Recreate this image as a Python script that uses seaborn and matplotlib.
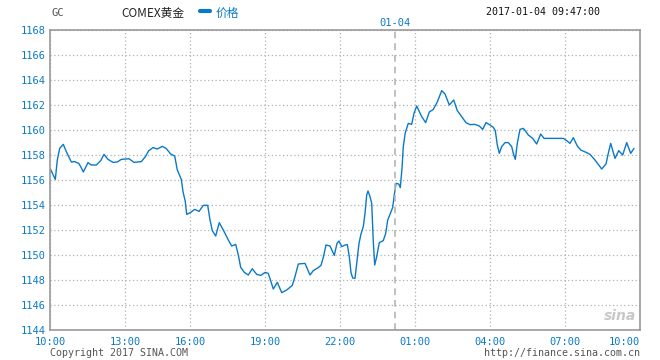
import pandas as pd
import matplotlib.pyplot as plt
import seaborn as sns

# intraday COMEX gold, x = position along the session axis (0 = 10:00, 590 = next 10:00)
slot = [0.5, 5.3, 7.3, 9.7, 13.3, 16.3, 21.3, 24.7, 28.7, 30.7, 33.3, 38, 41.3, 46.3, 50.7,
        54, 58, 63, 67.3, 71.3, 79, 84, 91.3, 95.3, 98.7, 103, 107.3, 112.3, 116.3, 120.7,
        124.7, 127.3, 131.3, 133, 135.3, 136.7, 140.7, 144.7, 149, 153.3, 157.7, 160, 162.3,
        165.7, 169.3, 173.3, 178.3, 181.7, 185.7, 188.3, 190.7, 194.3, 198.3, 202.3, 206.7,
        211, 215, 218.3, 221, 223.3, 227.3, 231.7, 236.7, 242.3, 245, 248.3, 255, 260, 263.3,
        267.7, 271, 273.3, 276, 280, 284.3, 287, 289, 291.7, 295, 297.3, 299.3, 301, 302.7,
        305, 306.7, 309, 311, 313.3, 315, 316.7, 318, 320, 321.7, 323.3, 324.7, 326.7, 329.3,
        333.3, 335.7, 337.7, 340, 342.7, 344.3, 346, 348.7, 350.3, 352, 353.3, 355.3, 358.3,
        361.7, 364, 366.7, 371.7, 375.7, 379.3, 383.3, 387.3, 391.7, 395, 399.3, 403.7, 407.3,
        411.7, 416, 420, 425, 429.3, 432.7, 436, 440, 443.3, 445.3, 447.3, 449.3, 451.7, 455,
        458.3, 461.7, 463.3, 465.3, 467.3, 470, 473.3, 476, 478.3, 482.7, 486.7, 490.7, 494,
        513.3, 516.7, 520, 523.3, 527.3, 530.7, 536.7, 540, 545, 551.7, 556, 558.3, 560.7,
        565, 568.7, 572.7, 576.7, 580.7, 584]
price = [1156.86, 1156.05, 1157.6, 1158.53, 1158.85, 1158.27, 1157.44, 1157.47, 1157.33,
         1157.07, 1156.64, 1157.39, 1157.2, 1157.2, 1157.55, 1158.05, 1157.65, 1157.41,
         1157.44, 1157.65, 1157.7, 1157.41, 1157.47, 1157.86, 1158.34, 1158.59, 1158.48,
         1158.69, 1158.51, 1158.08, 1157.92, 1156.8, 1156.05, 1155.07, 1154.27, 1153.25,
         1153.41, 1153.65, 1153.49, 1153.97, 1153.97, 1152.8, 1151.95, 1151.52, 1152.59,
         1152.0, 1151.2, 1150.72, 1150.85, 1150.0, 1149.01, 1148.61, 1148.4, 1148.9, 1148.45,
         1148.37, 1148.61, 1148.53, 1147.87, 1147.28, 1147.81, 1146.99, 1147.2, 1147.57,
         1148.27, 1149.28, 1149.33, 1148.4, 1148.75, 1148.96, 1149.17, 1149.81, 1150.8,
         1150.72, 1149.97, 1150.93, 1151.12, 1150.67, 1150.8, 1150.83, 1149.87, 1148.59,
         1148.16, 1148.13, 1149.33, 1150.93, 1151.68, 1152.27, 1153.33, 1154.8, 1155.12,
         1154.67, 1154.13, 1151.07, 1149.2, 1149.87, 1150.99, 1151.15, 1151.73, 1152.8,
         1153.25, 1153.81, 1154.8, 1155.73, 1155.68, 1155.39, 1156.93, 1158.67, 1159.79,
         1160.53, 1160.45, 1161.33, 1161.92, 1161.07, 1160.59, 1161.44, 1161.65, 1162.24,
         1163.15, 1162.88, 1162.0, 1162.4, 1161.55, 1161.07, 1160.59, 1160.43, 1160.45,
         1160.32, 1160.05, 1160.59, 1160.4, 1160.21, 1159.95, 1158.8, 1158.13, 1158.67,
         1158.99, 1158.99, 1158.67, 1158.13, 1157.65, 1158.93, 1160.05, 1160.13, 1159.87,
         1159.6, 1159.33, 1158.88, 1159.68, 1159.33, 1159.33, 1159.15, 1158.93, 1159.39,
         1158.72, 1158.4, 1158.19, 1158.05, 1157.6, 1156.88, 1157.28, 1158.13, 1158.93,
         1157.73, 1158.35, 1158.0, 1158.99, 1158.13, 1158.53]

tick_pos = [0, 75, 140, 215, 290, 365, 440, 515, 590]
tick_labels = ['10:00', '13:00', '16:00', '19:00', '22:00', '01:00', '04:00', '07:00', '10:00']
day_break = 345
y_ticks = list(range(1144, 1170, 2))

df = pd.DataFrame({'slot': slot, 'price': price})

sns.set_style("white")
plt.rcParams['font.family'] = ['DejaVu Sans Mono', 'Noto Sans CJK SC']

blue = '#0a7ac8'
W, H = 660, 360
fig = plt.figure(figsize=(6.6, 3.6), dpi=100)
ax = fig.add_axes([50 / W, 30 / H, 590 / W, 300 / H])

sns.lineplot(data=df, x='slot', y='price', ax=ax, color=blue, linewidth=1.0)

ax.set_xlim(0, 590)
ax.set_ylim(1144, 1168)
ax.set_xticks(tick_pos)
ax.set_xticklabels(tick_labels)
ax.set_yticks(y_ticks)
ax.set_xlabel('')
ax.set_ylabel('')
ax.tick_params(axis='both', length=0, labelsize=7.5, labelcolor=blue)
ax.tick_params(axis='x', pad=5)
ax.tick_params(axis='y', pad=3)
ax.get_xticklabels()[-1].set_horizontalalignment('right')

ax.grid(True, color='#b0b0b0', linestyle=(0, (1, 2)), linewidth=0.9)
for s in ax.spines.values():
    s.set_color('#999999')
    s.set_linewidth(1.2)
ax.axvline(day_break, color='#b5b5b5', linestyle=(0, (4, 3)), linewidth=1.2)

# header texts
fig.text(51 / W, 1 - 13 / H, 'GC', fontsize=7.5, color='#555555', va='center')
fig.text(121 / W, 1 - 13 / H, 'COMEX黄金', fontsize=8.5, color='#222222', va='center',
         family=['Noto Sans CJK SC', 'DejaVu Sans'])
fig.lines.append(plt.Line2D([200 / W, 210 / W], [1 - 11 / H, 1 - 11 / H],
                            transform=fig.transFigure, color=blue, linewidth=3))
fig.text(216 / W, 1 - 13 / H, '价格', fontsize=8.5, color=blue, va='center',
         family=['Noto Sans CJK SC', 'DejaVu Sans'])
fig.text(486 / W, 1 - 12 / H, '2017-01-04 09:47:00', fontsize=7.2, color='#111111', va='center')
ax.text(day_break, 1168.6, '01-04', fontsize=7.5, color=blue, ha='center', va='center')

# footer texts
fig.text(50 / W, 1 - 353 / H, 'Copyright 2017 SINA.COM', fontsize=7.2, color='#555555', va='center')
fig.text(640 / W, 1 - 353 / H, 'http://finance.sina.com.cn', fontsize=7.2, color='#555555',
         va='center', ha='right')
ax.text(586, 1144.6, 'sina', fontsize=10, color='#c8c8c8', ha='right', va='bottom',
        style='italic', weight='bold', family='DejaVu Sans')

fig.savefig('out.png', dpi=100)
